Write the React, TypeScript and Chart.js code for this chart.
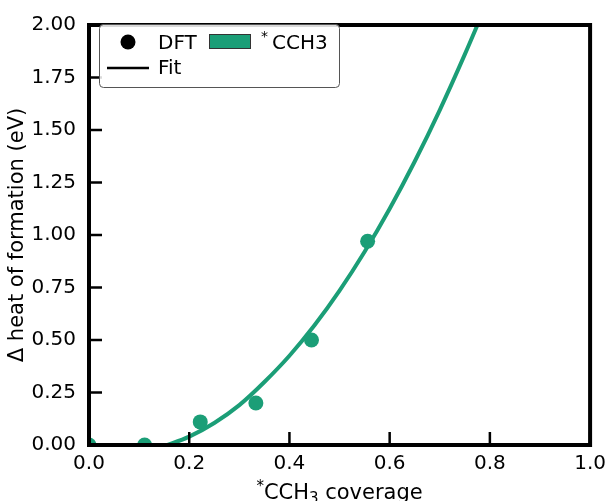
import React, { useEffect, useRef } from 'react';
import { Chart, registerables } from 'chart.js';

Chart.register(...registerables);

// ---- data ----
const coverage = [0, 0.111, 0.222, 0.333, 0.444, 0.556];
const dftHeat = [0.0, 0.0, 0.11, 0.2, 0.5, 0.97];

const fitCoverage = [0.15, 0.2, 0.25, 0.3, 0.35, 0.4, 0.45, 0.5, 0.55, 0.6, 0.65, 0.7, 0.75, 0.8];
const fitHeat = [-0.006, 0.04, 0.105, 0.19, 0.3, 0.425, 0.57, 0.735, 0.92, 1.125, 1.35, 1.595, 1.86, 2.14];

const xTicks = [0, 0.2, 0.4, 0.6, 0.8, 1.0];
const xTickLabels = ['0.0', '0.2', '0.4', '0.6', '0.8', '1.0'];
const yTicks = [0, 0.25, 0.5, 0.75, 1.0, 1.25, 1.5, 1.75, 2.0];
const yTickLabels = ['0.00', '0.25', '0.50', '0.75', '1.00', '1.25', '1.50', '1.75', '2.00'];

const GREEN = '#1b9e77';
const FONT = "'DejaVu Sans', sans-serif";

const decorPlugin = {
  id: 'decor',
  afterDraw(chart: any) {
    const ctx = chart.ctx as CanvasRenderingContext2D;
    const { left, right, top, bottom } = chart.chartArea;
    const xs = chart.scales.x;
    const ys = chart.scales.y;
    ctx.save();

    // inward ticks
    ctx.strokeStyle = '#000';
    ctx.lineWidth = 2.5;
    ctx.lineCap = 'butt';
    xTicks.forEach((v) => {
      const px = xs.getPixelForValue(v);
      ctx.beginPath();
      ctx.moveTo(px, bottom);
      ctx.lineTo(px, bottom - 13);
      ctx.stroke();
    });
    yTicks.forEach((v) => {
      const py = ys.getPixelForValue(v);
      ctx.beginPath();
      ctx.moveTo(left, py);
      ctx.lineTo(left + 13, py);
      ctx.stroke();
    });

    // spines
    ctx.lineWidth = 4;
    ctx.lineJoin = 'miter';
    ctx.strokeRect(left, top, right - left, bottom - top);

    // y title
    ctx.fillStyle = '#000';
    ctx.font = `21px ${FONT}`;
    ctx.textAlign = 'center';
    ctx.textBaseline = 'alphabetic';
    ctx.save();
    ctx.translate(22.5, (top + bottom) / 2);
    ctx.rotate(-Math.PI / 2);
    ctx.fillText('\u0394 heat of formation (eV)', 0, 0);
    ctx.restore();

    // x title with superscript * and subscript 3
    const tBig = `21px ${FONT}`;
    const tSmall = `15px ${FONT}`;
    const parts = [
      { t: '*', f: tSmall, dy: -8 },
      { t: 'CCH', f: tBig, dy: 0 },
      { t: '3', f: tSmall, dy: 4 },
      { t: ' coverage', f: tBig, dy: 0 },
    ];
    let total = 0;
    parts.forEach((p) => {
      ctx.font = p.f;
      total += ctx.measureText(p.t).width;
    });
    let cx = (left + right) / 2 - total / 2;
    const baseY = 498.5;
    ctx.textAlign = 'left';
    parts.forEach((p) => {
      ctx.font = p.f;
      ctx.fillText(p.t, cx, baseY + p.dy);
      cx += ctx.measureText(p.t).width;
    });

    const big = `20px ${FONT}`;
    const small = `14px ${FONT}`;

    // legend
    const lx = 99.5, ly = 24.5, lw = 240, lh = 63, r = 4;
    ctx.beginPath();
    ctx.moveTo(lx + r, ly);
    ctx.lineTo(lx + lw - r, ly);
    ctx.arcTo(lx + lw, ly, lx + lw, ly + r, r);
    ctx.lineTo(lx + lw, ly + lh - r);
    ctx.arcTo(lx + lw, ly + lh, lx + lw - r, ly + lh, r);
    ctx.lineTo(lx + r, ly + lh);
    ctx.arcTo(lx, ly + lh, lx, ly + lh - r, r);
    ctx.lineTo(lx, ly + r);
    ctx.arcTo(lx, ly, lx + r, ly, r);
    ctx.closePath();
    ctx.fillStyle = 'rgba(255,255,255,0.85)';
    ctx.fill();
    ctx.strokeStyle = '#555';
    ctx.lineWidth = 1;
    ctx.stroke();

    // DFT marker
    ctx.fillStyle = '#000';
    ctx.beginPath();
    ctx.arc(128, 42, 7.5, 0, Math.PI * 2);
    ctx.fill();
    ctx.font = big;
    ctx.fillText('DFT', 158, 48.5);

    // CCH3 patch
    ctx.fillStyle = GREEN;
    ctx.fillRect(209, 34, 42, 15);
    ctx.strokeStyle = '#333';
    ctx.lineWidth = 1;
    ctx.strokeRect(209.5, 34.5, 41, 14);
    ctx.fillStyle = '#000';
    ctx.font = small;
    ctx.fillText('*', 261, 40.5);
    ctx.font = big;
    ctx.fillText('CCH3', 272, 48.5);

    // Fit line
    ctx.strokeStyle = '#000';
    ctx.lineWidth = 2.5;
    ctx.beginPath();
    ctx.moveTo(107, 68);
    ctx.lineTo(149, 68);
    ctx.stroke();
    ctx.fillText('Fit', 158, 74);

    ctx.restore();
  },
};

export default function App() {
  const canvasRef = useRef<HTMLCanvasElement | null>(null);

  useEffect(() => {
    if (!canvasRef.current) return;
    const chart = new Chart(canvasRef.current, {
      type: 'scatter',
      data: {
        datasets: [
          {
            label: 'Fit',
            data: fitCoverage.map((x, i) => ({ x, y: fitHeat[i] })),
            showLine: true,
            borderColor: GREEN,
            borderWidth: 4,
            pointRadius: 0,
            cubicInterpolationMode: 'monotone',
            clip: 0,
            order: 2,
          } as any,
          {
            label: 'DFT',
            data: coverage.map((x, i) => ({ x, y: dftHeat[i] })),
            showLine: false,
            backgroundColor: GREEN,
            borderColor: GREEN,
            borderWidth: 0,
            pointRadius: 7.5,
            clip: 0,
            order: 1,
          } as any,
        ],
      },
      options: {
        animation: false,
        responsive: false,
        maintainAspectRatio: false,
        layout: { padding: { top: 14, right: 18, left: 0, bottom: 0 } },
        plugins: {
          legend: { display: false },
          tooltip: { enabled: false },
        },
        scales: {
          x: {
            type: 'linear',
            min: 0,
            max: 1,
            grid: { display: false, drawTicks: false },
            border: { display: false },
            afterBuildTicks: (scale: any) => {
              scale.ticks = xTicks.map((v) => ({ value: v }));
            },
            afterFit: (scale: any) => {
              scale.height = 56;
            },
            ticks: {
              autoSkip: false,
              maxRotation: 0,
              padding: 7,
              color: '#000',
              font: { family: 'DejaVu Sans', size: 20 },
              callback: (v: any) => xTickLabels[xTicks.indexOf(Number(v))] ?? '',
            },
          },
          y: {
            type: 'linear',
            min: 0,
            max: 2,
            grid: { display: false, drawTicks: false },
            border: { display: false },
            afterBuildTicks: (scale: any) => {
              scale.ticks = yTicks.map((v) => ({ value: v }));
            },
            afterFit: (scale: any) => {
              scale.width = 89;
            },
            ticks: {
              autoSkip: false,
              padding: 13,
              color: '#000',
              font: { family: 'DejaVu Sans', size: 20 },
              callback: (v: any) => yTickLabels[yTicks.indexOf(Number(v))] ?? '',
            },
          },
        },
      },
      plugins: [decorPlugin],
    });
    return () => chart.destroy();
  }, []);

  return (
    <div style={{ position: 'absolute', left: 0, top: 0, width: 613, height: 501 }}>
      <canvas ref={canvasRef} width={613} height={501} style={{ width: 613, height: 501 }} />
    </div>
  );
}
